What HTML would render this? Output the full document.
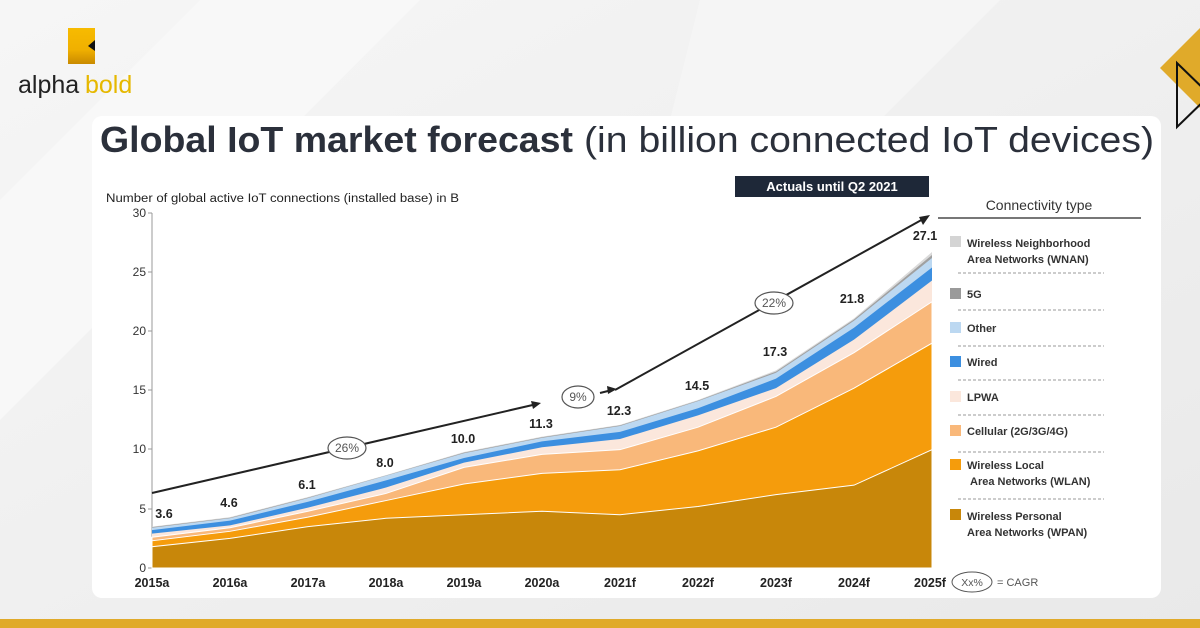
<!DOCTYPE html>
<html><head><meta charset="utf-8"><style>
html,body{margin:0;padding:0}
body{width:1200px;height:628px;overflow:hidden;background:#efefef;font-family:"Liberation Sans",sans-serif;position:relative}
</style></head><body>
<svg width="1200" height="628" viewBox="0 0 1200 628" xmlns="http://www.w3.org/2000/svg" style="position:absolute;left:0;top:0">
<defs>
<linearGradient id="bg" x1="0" y1="0" x2="1" y2="1"><stop offset="0" stop-color="#f6f6f6"/><stop offset="1" stop-color="#e9e9e9"/></linearGradient>
<linearGradient id="lg" x1="0" y1="0" x2="0" y2="1"><stop offset="0" stop-color="#f7bb00"/><stop offset="0.6" stop-color="#f0b000"/><stop offset="1" stop-color="#c98a00"/></linearGradient>
</defs>
<rect width="1200" height="628" fill="url(#bg)"/>
<polygon points="0,200 200,0 420,0 0,420" fill="#f8f8f8"/>
<polygon points="700,0 1000,0 600,400" fill="#f5f5f5"/>
<rect x="0" y="619" width="1200" height="9" fill="#e0aa2a"/>
<rect x="68" y="28" width="27" height="36" fill="url(#lg)"/>
<polygon points="95,40 88,46 95,51" fill="#111"/>
<text x="18" y="93" font-size="25" fill="#222">alpha</text>
<text x="85" y="93" font-size="25" fill="#e6b800">bold</text>
<polygon points="1160,68 1205,23 1250,68 1205,113" fill="#e0aa2a"/>
<polygon points="1177,63 1177,127 1210,95" fill="none" stroke="#111" stroke-width="2"/>
<rect x="92" y="116" width="1069" height="482" rx="10" fill="#fff"/>
<text x="100" y="152" font-size="36" font-weight="bold" fill="#2b303b" textLength="473" lengthAdjust="spacingAndGlyphs">Global IoT market forecast</text>
<text x="584" y="152" font-size="36" fill="#2b303b" textLength="570" lengthAdjust="spacingAndGlyphs">(in billion connected IoT devices)</text>
<text x="106" y="202" font-size="11.5" fill="#222" textLength="353" lengthAdjust="spacingAndGlyphs">Number of global active IoT connections (installed base) in B</text>
<g font-size="12" fill="#333" text-anchor="end">
<line x1="152" y1="213" x2="152" y2="568" stroke="#999"/>
<g stroke="#999"><line x1="148" y1="213" x2="152" y2="213"/><line x1="148" y1="272" x2="152" y2="272"/><line x1="148" y1="331" x2="152" y2="331"/><line x1="148" y1="390" x2="152" y2="390"/><line x1="148" y1="449" x2="152" y2="449"/><line x1="148" y1="509" x2="152" y2="509"/><line x1="148" y1="568" x2="152" y2="568"/></g>
<text x="146" y="217">30</text><text x="146" y="276">25</text><text x="146" y="335">20</text><text x="146" y="394">15</text><text x="146" y="453">10</text><text x="146" y="513">5</text><text x="146" y="572">0</text>
</g>
<g transform="translate(152,568) scale(78,-11.833)">
<polygon fill="#dadada" points="0,0 0,3.5 1,4.3 2,6.0 3,7.85 4,9.8 5,11.1 6,12.1 7,14.2 8,16.7 9,21.1 10,26.7 10,0"/>
<polygon fill="#a0a0a0" points="0,0 0,3.45 1,4.25 2,5.95 3,7.82 4,9.75 5,11.05 6,12.05 7,14.15 8,16.6 9,21.0 10,26.45 10,0"/>
<polygon fill="#bcd8f1" points="0,0 0,3.4 1,4.2 2,5.9 3,7.8 4,9.7 5,11.0 6,12.0 7,14.1 8,16.5 9,20.9 10,26.2 10,0"/>
<polygon fill="#3c8fe0" points="0,0 0,3.2 1,4.0 2,5.6 3,7.4 4,9.3 5,10.7 6,11.5 7,13.5 8,16.0 9,20.3 10,25.4 10,0"/>
<polygon fill="#fbe7dc" points="0,0 0,2.9 1,3.6 2,5.1 3,6.8 4,8.9 5,10.2 6,10.9 7,12.9 8,15.2 9,19.3 10,24.3 10,0"/>
<polygon fill="#f9b87a" stroke="#fff" stroke-width="1" vector-effect="non-scaling-stroke" points="0,0 0,2.6 1,3.4 2,4.8 3,6.3 4,8.5 5,9.6 6,10.0 7,11.9 8,14.5 9,18.2 10,22.5 10,0"/>
<polygon fill="#f59c0c" stroke="#fff" stroke-width="1" vector-effect="non-scaling-stroke" points="0,0 0,2.3 1,3.1 2,4.3 3,5.7 4,7.1 5,8.0 6,8.3 7,9.9 8,11.9 9,15.2 10,19.0 10,0"/>
<polygon fill="#c8870a" stroke="#fff" stroke-width="1" vector-effect="non-scaling-stroke" points="0,0 0,1.8 1,2.5 2,3.5 3,4.2 4,4.5 5,4.8 6,4.5 7,5.2 8,6.2 9,7.0 10,10.0 10,0"/>
</g>
<g stroke="#222" stroke-width="2" fill="none">
<polyline points="152,493 537,404"/>
<polyline points="600,393 612,390"/>
<polyline points="615,390 925,218"/>
</g>
<polygon points="541,403 531,401 533,409" fill="#222"/>
<polygon points="617,389 607,386 608,394" fill="#222"/>
<polygon points="930,215 919,217 923,225" fill="#222"/>
<g fill="#fff" stroke="#555" stroke-width="1.2">
<ellipse cx="347" cy="448" rx="19" ry="11"/><ellipse cx="578" cy="397" rx="16" ry="11"/><ellipse cx="774" cy="303" rx="19" ry="11"/>
</g>
<g font-size="12" fill="#555" text-anchor="middle"><text x="347" y="452">26%</text><text x="578" y="401">9%</text><text x="774" y="307">22%</text></g>
<g font-size="12.5" font-weight="bold" fill="#222" text-anchor="middle">
<text x="164" y="518">3.6</text><text x="229" y="507">4.6</text><text x="307" y="489">6.1</text><text x="385" y="467">8.0</text><text x="463" y="443">10.0</text><text x="541" y="428">11.3</text><text x="619" y="415">12.3</text><text x="697" y="390">14.5</text><text x="775" y="356">17.3</text><text x="852" y="303">21.8</text><text x="925" y="240">27.1</text>
</g>
<g font-size="12.5" font-weight="bold" fill="#222" text-anchor="middle">
<text x="152" y="587">2015a</text><text x="230" y="587">2016a</text><text x="308" y="587">2017a</text><text x="386" y="587">2018a</text><text x="464" y="587">2019a</text><text x="542" y="587">2020a</text><text x="620" y="587">2021f</text><text x="698" y="587">2022f</text><text x="776" y="587">2023f</text><text x="854" y="587">2024f</text><text x="930" y="587">2025f</text>
</g>
<ellipse cx="972" cy="582" rx="20" ry="10" fill="#fff" stroke="#555"/>
<text x="972" y="586" font-size="10.5" fill="#555" text-anchor="middle">Xx%</text>
<text x="997" y="586" font-size="11" fill="#555">= CAGR</text>
<rect x="735" y="176" width="194" height="21" fill="#1e2838"/>
<text x="832" y="191" font-size="13" font-weight="bold" fill="#fff" text-anchor="middle">Actuals until Q2 2021</text>
<text x="1039" y="210" font-size="14" fill="#333" text-anchor="middle">Connectivity type</text>
<line x1="938" y1="218" x2="1141" y2="218" stroke="#777" stroke-width="2"/>
<g stroke="#999" stroke-dasharray="3,2" stroke-width="1">
<line x1="958" y1="273" x2="1104" y2="273"/><line x1="958" y1="310" x2="1104" y2="310"/><line x1="958" y1="346" x2="1104" y2="346"/><line x1="958" y1="380" x2="1104" y2="380"/><line x1="958" y1="415" x2="1104" y2="415"/><line x1="958" y1="452" x2="1104" y2="452"/><line x1="958" y1="499" x2="1104" y2="499"/>
</g>
<rect x="950" y="236" width="11" height="11" fill="#d4d4d4"/>
<rect x="950" y="288" width="11" height="11" fill="#9a9a9a"/>
<rect x="950" y="322" width="11" height="11" fill="#bcd8f1"/>
<rect x="950" y="356" width="11" height="11" fill="#3c8fe0"/>
<rect x="950" y="391" width="11" height="11" fill="#fbe7dc"/>
<rect x="950" y="425" width="11" height="11" fill="#f9b87a"/>
<rect x="950" y="459" width="11" height="11" fill="#f59c0c"/>
<rect x="950" y="509" width="11" height="11" fill="#c8870a"/>
<g font-size="11" font-weight="bold" fill="#333">
<text x="967" y="247">Wireless Neighborhood</text><text x="967" y="263">Area Networks (WNAN)</text>
<text x="967" y="298">5G</text><text x="967" y="332">Other</text><text x="967" y="366">Wired</text><text x="967" y="401">LPWA</text>
<text x="967" y="435">Cellular (2G/3G/4G)</text>
<text x="967" y="469">Wireless Local</text><text x="970" y="485">Area Networks (WLAN)</text>
<text x="967" y="520">Wireless Personal</text><text x="967" y="536">Area Networks (WPAN)</text>
</g>
</svg>
</body></html>
